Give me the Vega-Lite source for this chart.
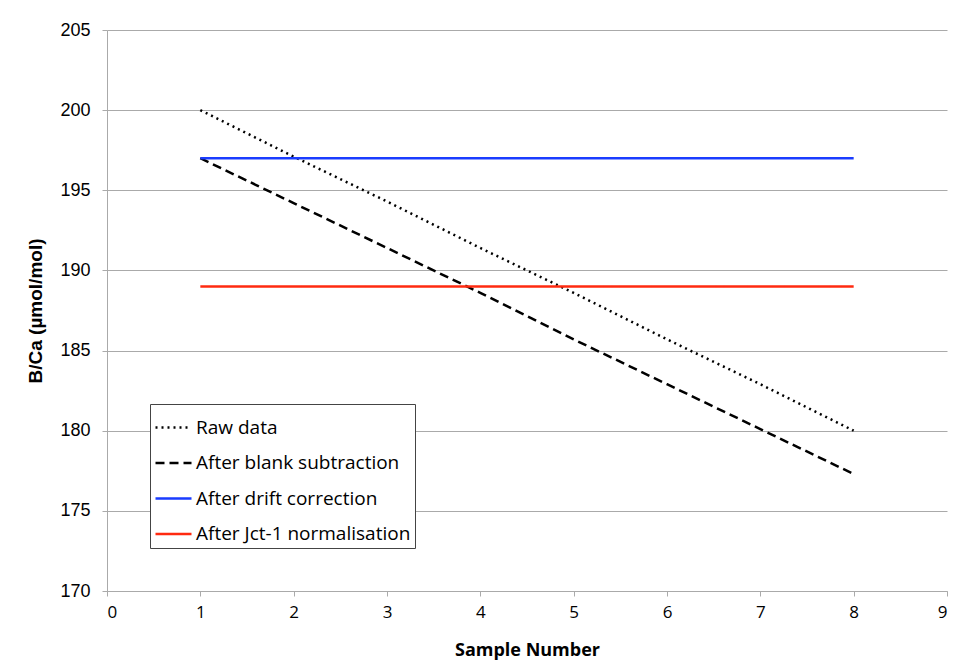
{
  "$schema": "https://vega.github.io/schema/vega-lite/v6.json",
  "width": 840,
  "height": 561,
  "autosize": {"type": "none"},
  "padding": {"left": 107, "top": 30, "right": 8, "bottom": 71},
  "background": "white",
  "data": {
    "values": [
      {"sample": 1, "value": 200, "series": "Raw data"},
      {"sample": 2, "value": 197.1, "series": "Raw data"},
      {"sample": 3, "value": 194.3, "series": "Raw data"},
      {"sample": 4, "value": 191.4, "series": "Raw data"},
      {"sample": 5, "value": 188.6, "series": "Raw data"},
      {"sample": 6, "value": 185.7, "series": "Raw data"},
      {"sample": 7, "value": 182.9, "series": "Raw data"},
      {"sample": 8, "value": 180, "series": "Raw data"},
      {"sample": 1, "value": 197, "series": "After blank subtraction"},
      {"sample": 2, "value": 194.2, "series": "After blank subtraction"},
      {"sample": 3, "value": 191.4, "series": "After blank subtraction"},
      {"sample": 4, "value": 188.6, "series": "After blank subtraction"},
      {"sample": 5, "value": 185.7, "series": "After blank subtraction"},
      {"sample": 6, "value": 182.9, "series": "After blank subtraction"},
      {"sample": 7, "value": 180.1, "series": "After blank subtraction"},
      {"sample": 8, "value": 177.3, "series": "After blank subtraction"},
      {"sample": 1, "value": 197, "series": "After drift correction"},
      {"sample": 2, "value": 197, "series": "After drift correction"},
      {"sample": 3, "value": 197, "series": "After drift correction"},
      {"sample": 4, "value": 197, "series": "After drift correction"},
      {"sample": 5, "value": 197, "series": "After drift correction"},
      {"sample": 6, "value": 197, "series": "After drift correction"},
      {"sample": 7, "value": 197, "series": "After drift correction"},
      {"sample": 8, "value": 197, "series": "After drift correction"},
      {"sample": 1, "value": 189, "series": "After Jct-1 normalisation"},
      {"sample": 2, "value": 189, "series": "After Jct-1 normalisation"},
      {"sample": 3, "value": 189, "series": "After Jct-1 normalisation"},
      {"sample": 4, "value": 189, "series": "After Jct-1 normalisation"},
      {"sample": 5, "value": 189, "series": "After Jct-1 normalisation"},
      {"sample": 6, "value": 189, "series": "After Jct-1 normalisation"},
      {"sample": 7, "value": 189, "series": "After Jct-1 normalisation"},
      {"sample": 8, "value": 189, "series": "After Jct-1 normalisation"}
    ]
  },
  "mark": {"type": "line", "clip": true},
  "encoding": {
    "x": {
      "field": "sample", "type": "quantitative",
      "scale": {"domain": [0, 9], "nice": false},
      "axis": {
        "title": "Sample Number", "values": [0,1,2,3,4,5,6,7,8,9],
        "grid": false, "domainColor": "#aaaaaa", "tickColor": "#aaaaaa", "tickSize": 5,
        "labelFont": "Open Sans", "labelFontSize": 17, "labelColor": "#000", "labelPadding": 8,
        "titleFont": "Open Sans", "titleFontSize": 18, "titleFontWeight": "bold", "titleColor": "#000", "titlePadding": 21
      }
    },
    "y": {
      "field": "value", "type": "quantitative",
      "scale": {"domain": [170, 205], "nice": false, "zero": false},
      "axis": {
        "title": "B/Ca (µmol/mol)", "values": [170,175,180,185,190,195,200,205],
        "grid": true, "gridColor": "#aaaaaa", "domainColor": "#aaaaaa", "tickColor": "#aaaaaa", "tickSize": 5,
        "labelFont": "Liberation Sans", "labelFontSize": 18, "labelColor": "#000", "labelPadding": 12,
        "titleFont": "Liberation Sans", "titleFontSize": 19, "titleFontWeight": "bold", "titleColor": "#000", "titlePadding": 14
      }
    },
    "color": {
      "field": "series", "type": "nominal",
      "scale": {
        "domain": ["Raw data", "After blank subtraction", "After drift correction", "After Jct-1 normalisation"],
        "range": ["#000000", "#000000", "#1a3cff", "#ff2a10"]
      },
      "legend": {"title": null}
    },
    "strokeDash": {
      "field": "series", "type": "nominal",
      "scale": {
        "domain": ["Raw data", "After blank subtraction", "After drift correction", "After Jct-1 normalisation"],
        "range": [[2, 4], [9, 5], [1, 0], [1, 0]]
      },
      "legend": {"title": null}
    }
  },
  "config": {
    "view": {"stroke": null},
    "line": {"strokeWidth": 2.5},
    "legend": {
      "orient": "none", "legendX": 43, "legendY": 374,
      "strokeColor": "#444444", "fillColor": "white", "padding": 4,
      "symbolType": "stroke", "symbolSize": 1296, "symbolStrokeWidth": 2.5,
      "labelFont": "Open Sans", "labelFontSize": 19, "labelColor": "#000", "labelLimit": 400,
      "rowPadding": 5.5, "labelOffset": 3
    }
  }
}
